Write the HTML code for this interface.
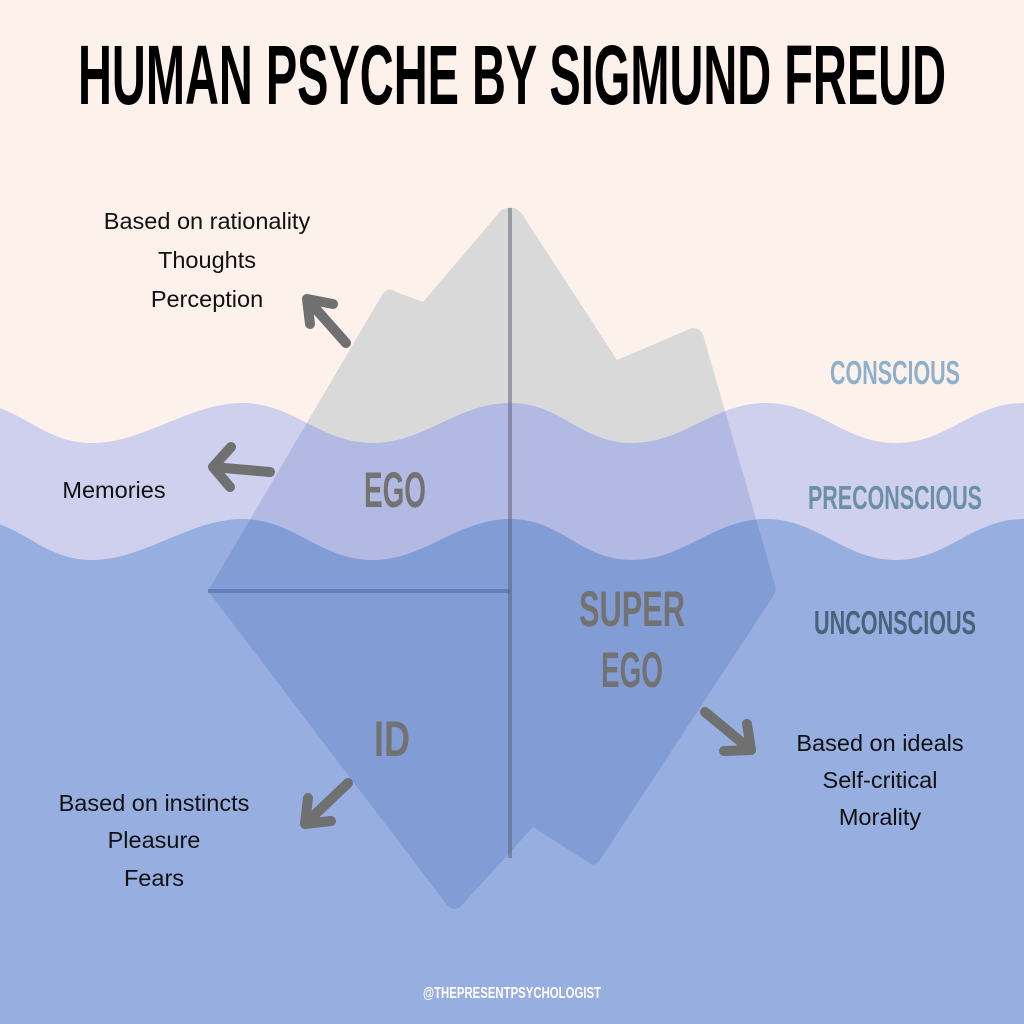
<!DOCTYPE html>
<html><head><meta charset="utf-8"><style>
html,body{margin:0;padding:0;width:1024px;height:1024px;overflow:hidden;background:#fdf1ec}
svg{display:block}
.b{font-family:"Liberation Sans",sans-serif;font-size:23.5px;fill:#111;text-anchor:middle}
.c{font-family:"Liberation Sans Narrow","Liberation Sans",sans-serif;font-weight:bold;text-anchor:middle}
</style></head><body>
<svg width="1024" height="1024" viewBox="0 0 1024 1024">
<defs>
<path id="ice" d="M508,208 Q516,206 522,214 L617,360 L692,328 Q702,328 704,338 L775,585 Q777,592 772,598 L600,860 Q594,868 588,862 L533,827 L462,905 Q455,913 447,905 L208,591 L382,295 Q388,286 396,292 L423,302 L498,214 Q502,208 508,208 Z"/>
<clipPath id="water"><path d="M-30,403 C20,403 40,443 92,443 C144,443 190,403 242,403 C294,403 320,443 373,443 C424,443 458,403 510,403 C562,403 580,443 632,443 C684,443 714,403 766,403 C818,403 844,443 896,443 C948,443 972,403 1024,403 L1060,403 L1060,1030 L-30,1030 Z"/></clipPath>
</defs>
<rect width="1024" height="1024" fill="#fdf1ec"/>
<text x="512" y="104" class="c" font-size="84" fill="#000" textLength="868" lengthAdjust="spacingAndGlyphs">HUMAN PSYCHE BY SIGMUND FREUD</text>
<use href="#ice" fill="#d9d9d9"/>
<path d="M-30,403 C20,403 40,443 92,443 C144,443 190,403 242,403 C294,403 320,443 373,443 C424,443 458,403 510,403 C562,403 580,443 632,443 C684,443 714,403 766,403 C818,403 844,443 896,443 C948,443 972,403 1024,403 L1060,403 L1060,1030 L-30,1030 Z" fill="#cfcfee"/>
<path d="M-30,519 C20,519 40,560 92,560 C144,560 190,519 242,519 C294,519 320,560 373,560 C424,560 458,519 510,519 C562,519 580,560 632,560 C684,560 714,519 766,519 C818,519 844,560 896,560 C948,560 972,519 1024,519 L1060,519 L1060,1030 L-30,1030 Z" fill="#97aee0"/>
<use href="#ice" fill="rgba(4,60,154,0.14)" clip-path="url(#water)"/>
<line x1="510" y1="208" x2="510" y2="858" stroke="rgba(90,90,110,0.5)" stroke-width="4"/>
<line x1="208" y1="591" x2="510" y2="591" stroke="rgba(70,95,160,0.5)" stroke-width="4"/>
<g stroke="#707070" stroke-width="10" stroke-linecap="round" stroke-linejoin="round" fill="none">
<path d="M346,343 L307,299 M307,299 L310,324 M307,299 L333,304"/>
<path d="M270,472 L213,467 M213,467 L231,447 M213,467 L230,487"/>
<path d="M348,783 L305,824 M305,824 L308,798 M305,824 L331,821"/>
<path d="M705,712 L751,750 M751,750 L747,724 M751,750 L724,751"/>
</g>
<text class="b" x="207" y="229">Based on rationality</text>
<text class="b" x="207" y="268">Thoughts</text>
<text class="b" x="207" y="307">Perception</text>
<text class="b" x="114" y="498">Memories</text>
<text class="b" x="154" y="811">Based on instincts</text>
<text class="b" x="154" y="848">Pleasure</text>
<text class="b" x="154" y="886">Fears</text>
<text class="b" x="880" y="751">Based on ideals</text>
<text class="b" x="880" y="788">Self-critical</text>
<text class="b" x="880" y="825">Morality</text>
<g class="c" fill="#727272">
<text x="395" y="507" font-size="50" textLength="62" lengthAdjust="spacingAndGlyphs">EGO</text>
<text x="632" y="626" font-size="50" textLength="106" lengthAdjust="spacingAndGlyphs">SUPER</text>
<text x="632" y="687" font-size="50" textLength="62" lengthAdjust="spacingAndGlyphs">EGO</text>
<text x="392" y="756" font-size="50" textLength="36" lengthAdjust="spacingAndGlyphs">ID</text>
</g>
<text class="c" x="895" y="384" font-size="33" fill="#8fb0cc" textLength="130" lengthAdjust="spacingAndGlyphs">CONSCIOUS</text>
<text class="c" x="895" y="509" font-size="33" fill="#6a8fa8" textLength="174" lengthAdjust="spacingAndGlyphs">PRECONSCIOUS</text>
<text class="c" x="895" y="634" font-size="33" fill="#4a637a" textLength="162" lengthAdjust="spacingAndGlyphs">UNCONSCIOUS</text>
<text class="c" x="512" y="998" font-size="16" font-weight="normal" fill="#fff" textLength="178" lengthAdjust="spacingAndGlyphs">@THEPRESENTPSYCHOLOGIST</text>
</svg>
</body></html>
